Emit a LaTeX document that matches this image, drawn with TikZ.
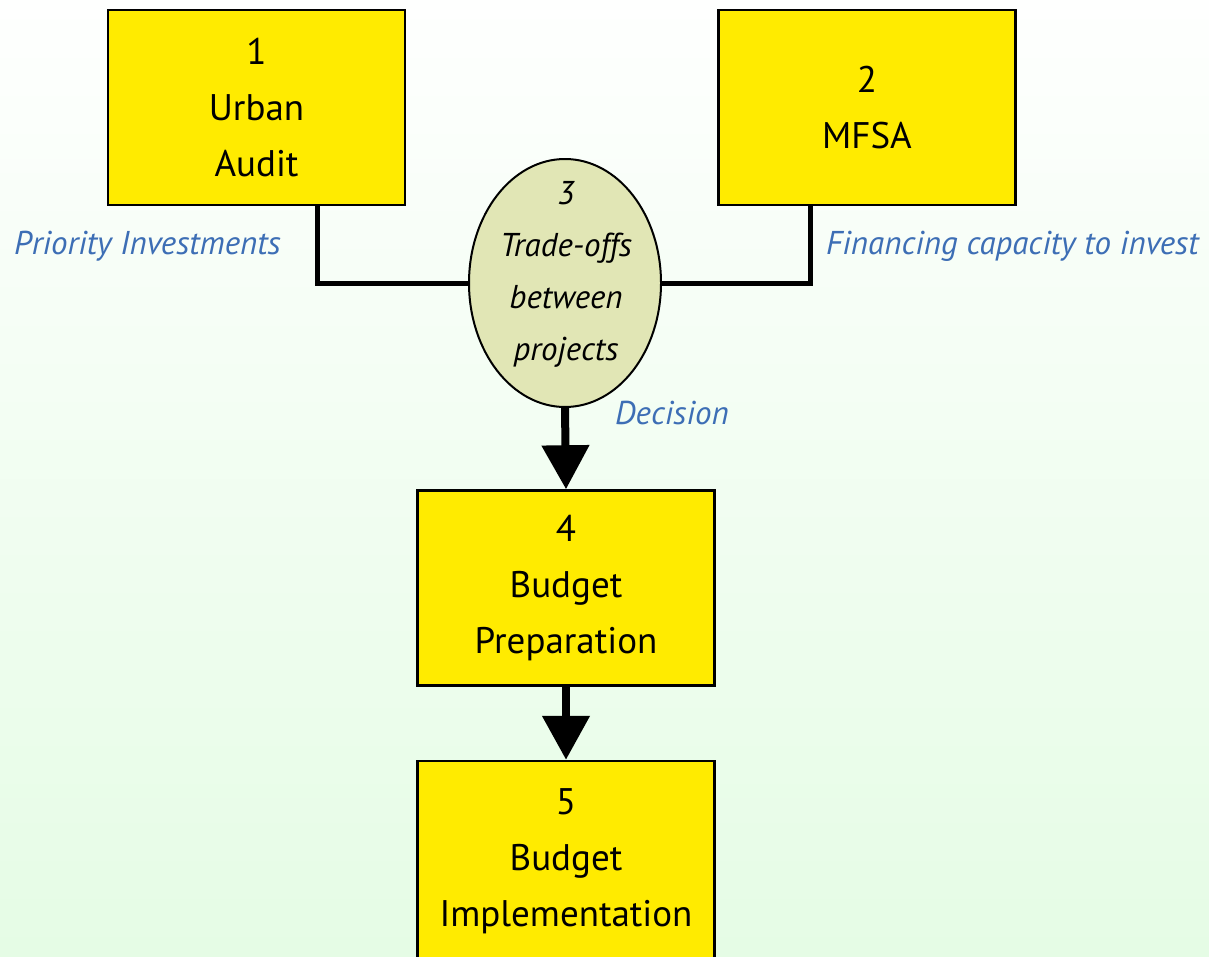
\documentclass[tikz,border=0pt]{standalone}
\usepackage{fontspec}
\setmainfont{PT Sans}
\usetikzlibrary{arrows.meta,shapes.geometric}
\definecolor{boxyellow}{HTML}{FFEB00}
\definecolor{ellfill}{HTML}{E1E6B5}
\definecolor{lblue}{HTML}{3D6EB5}
\definecolor{bgtop}{HTML}{FEFFFE}
\definecolor{bgbot}{HTML}{E5FCE5}
\tikzset{
  box/.style={draw=black, line width=2.5pt, fill=boxyellow, minimum width=297pt, minimum height=195pt, inner sep=0pt, align=center, font=\fontsize{37}{56}\selectfont},
  ell/.style={ellipse, draw=black, line width=2pt, fill=ellfill, minimum width=192pt, minimum height=248pt, inner sep=0pt},
  elltext/.style={align=center, inner sep=0pt, font=\itshape\fontsize{33}{52}\selectfont},
  conn/.style={line width=5pt, line cap=rect},
  arr/.style={line width=8pt, -{Triangle[width=46pt,length=44pt]}},
  lbl/.style={text=lblue, font=\itshape\fontsize{33}{36}\selectfont, inner sep=0pt}
}
\begin{document}
\begin{tikzpicture}[x=1pt,y=-1pt]
\useasboundingbox (0,0) rectangle (1209,956);
\shade[top color=bgtop, bottom color=bgbot] (0,0) rectangle (1209,956);
\begin{scope}
\clip (0,0) rectangle (1209,956);
\node[box] (b1) at (256.5,107.5) {1\\Urban\\Audit};
\node[box] (b2) at (867,107.5) {2\\MFSA};
\node[box] (b4) at (566,588) {4\\Budget\\Preparation};
\node[box, minimum height=200pt] (b5) at (566,861) {5\\Budget\\Implementation};
\coordinate (c1) at (317,283);
\coordinate (c2) at (810,283);
\draw[conn] (b1.south -| c1) -- (c1) -- (566,283);
\draw[conn] (b2.south -| c2) -- (c2) -- (566,283);
\node[ell] (e3) at (565,283) {};
\node[elltext] (t3) at (566,274) {3\\Trade-offs\\between\\projects};
\draw[arr] (e3.south) -- (b4.north);
\draw[arr] (b4.south) -- (b5.north);
\node[lbl, anchor=west] (l1) at (14,246) {Priority Investments};
\node[lbl, anchor=west] (l2) at (826,246) {Financing capacity to invest};
\node[lbl, anchor=west] (l3) at (615,413) {Decision};
\end{scope}
\end{tikzpicture}
\end{document}
